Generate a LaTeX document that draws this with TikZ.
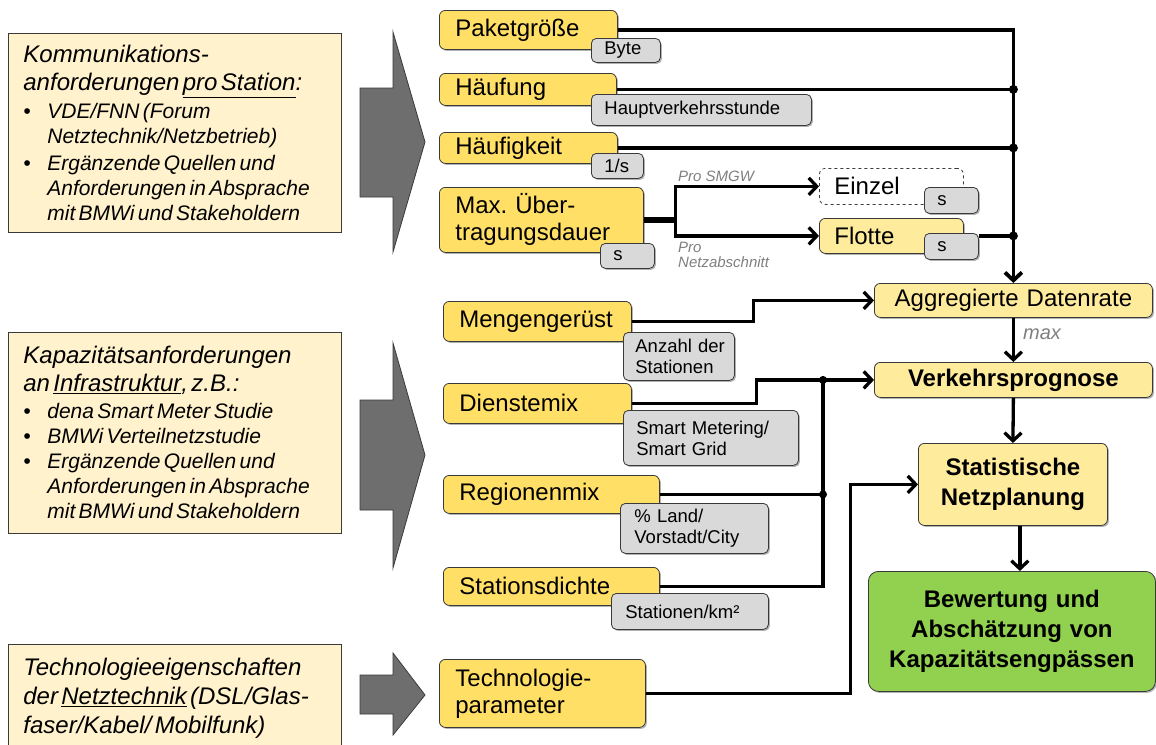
\documentclass[tikz,border=0pt]{standalone}
\usepackage{fontspec}
\setmainfont{Liberation Sans}
\usetikzlibrary{arrows.meta,shadows,calc}
\definecolor{gold}{HTML}{FFDF66}
\definecolor{lgold}{HTML}{FFEB9C}
\definecolor{cream}{HTML}{FFF2CC}
\definecolor{tagc}{HTML}{D9D9D9}
\definecolor{grn}{HTML}{92D050}
\definecolor{arrc}{HTML}{6E6E6E}
\definecolor{bordc}{HTML}{3A3A3A}
\definecolor{lblc}{HTML}{7F7F7F}
\hyphenpenalty=10000
\exhyphenpenalty=10000
\frenchspacing
\newcommand\bitem[1]{\par\hangindent=24pt\hangafter=1\noindent\makebox[24pt][l]{\textbullet}#1\par}
\newcommand\boxsetup{\raggedright\leftskip=11pt\parindent=0pt\frenchspacing}
\begin{document}
\begin{tikzpicture}[x=1pt,y=-1pt,
  shd/.style={drop shadow={shadow xshift=1.5pt,shadow yshift=-1.5pt,opacity=0.3,fill=black}},
  lbox/.style={draw=bordc,line width=0.8pt,fill=cream,anchor=north west,inner xsep=4pt,inner ysep=0pt,text width=325pt,minimum height=#1,font=\itshape},
  ynb/.style={draw=bordc,line width=0.8pt,fill=gold,rounded corners=6pt,anchor=north west,inner xsep=16pt,inner ysep=0pt,align=left,font=\fontsize{24}{27}\selectfont},
  yn/.style={ynb,shd},
  tag/.style={draw=bordc,line width=0.8pt,fill=tagc,rounded corners=5pt,anchor=north west,inner xsep=13pt,inner ysep=0pt,align=left,font=\fontsize{18.5}{21}\selectfont,shd},
  cn/.style={draw=bordc,line width=0.8pt,fill=lgold,rounded corners=6pt,anchor=north west,inner xsep=10pt,inner ysep=0pt,align=center,font=\fontsize{24}{30}\selectfont,shd},
  conn/.style={line width=3.3pt},
  arr/.style={-{Straight Barb[length=8pt,width=17pt]}},
  lbl/.style={text=lblc,inner sep=0pt,align=left},
  garrow/.style={draw=bordc,line width=0.8pt,fill=arrc}
]
\useasboundingbox (0,0) rectangle (1156,744);
\clip (0,0) rectangle (1156,744);

% left info boxes
\node[lbox=199pt] (k1) at (8,33) {\boxsetup
{\fontsize{24}{28}\selectfont Kommunikations-\newline anforderungen \underline{pro Station}:\par}
\fontsize{21}{25}\selectfont\vspace{3pt}%
\bitem{VDE/FNN (Forum\newline Netztechnik/Netzbetrieb)}%
\vspace{2pt}%
\bitem{Ergänzende Quellen und\newline Anforderungen in Absprache\newline mit BMWi und Stakeholdern}};

\node[lbox=201pt] (k2) at (8,332) {\boxsetup
{\fontsize{24}{28}\selectfont Kapazitätsanforderungen\newline an \underline{Infrastruktur}, z.B.:\par}
\fontsize{21}{25}\selectfont\vspace{2pt}%
\bitem{dena Smart Meter Studie}%
\bitem{BMWi Verteilnetzstudie}%
\bitem{Ergänzende Quellen und\newline Anforderungen in Absprache\newline mit BMWi und Stakeholdern}};

\node[lbox=108pt] (k3) at (8,644) {\boxsetup\fontsize{24}{29}\selectfont
Technologieeigenschaften\newline der \underline{Netztechnik} (DSL/Glas-\newline faser/Kabel/ Mobilfunk)\par};

% gray block arrows
\draw[garrow] (360,88) -- (393,88) -- (393,32) -- (425,142) -- (393,252) -- (393,197) -- (360,197) -- cycle;
\draw[garrow] (360,400) -- (393,400) -- (393,343) -- (425,455) -- (393,568) -- (393,510) -- (360,510) -- cycle;
\draw[garrow] (360,675) -- (393,675) -- (393,653) -- (425,695) -- (393,735) -- (393,714) -- (360,714) -- cycle;

% parameter nodes
\node[yn,text width=146pt,minimum height=39pt] (paket) at (439,10) {Paketgröße};
\node[yn,text width=145pt,minimum height=32pt] (haeuf) at (439,73) {Häufung};
\node[yn,text width=146pt,minimum height=31pt] (haeufk) at (439,132) {Häufigkeit};
\node[yn,text width=172pt,minimum height=65pt] (maxn) at (439,187) {Max. Über-\\tragungsdauer};
\node[ynb,dashed,fill=white,inner xsep=15pt,text width=114pt,minimum height=36pt] (einzel) at (819,168) {Einzel};
\node[yn,fill=lgold,inner xsep=15pt,text width=114pt,minimum height=35pt] (flotte) at (819,218) {Flotte};
\node[yn,text width=156pt,minimum height=40pt] (meng) at (443,301) {Mengengerüst};
\node[yn,text width=156pt,minimum height=40pt] (dienst) at (443,383) {Dienstemix};
\node[yn,text width=184pt,minimum height=38pt] (region) at (443,475) {Regionenmix};
\node[yn,text width=184pt,minimum height=38pt] (statd) at (443,567) {Stationsdichte};
\node[yn,text width=174pt,minimum height=68pt] (tech) at (439,659) {Technologie-\\parameter};

% unit tags
\node[tag,text width=43pt,minimum height=24pt] (tbyte) at (591,38) {Byte};
\node[tag,text width=194pt,minimum height=31pt] (thvs) at (591,94) {Hauptverkehrsstunde};
\node[tag,text width=26pt,minimum height=25pt] (t1s) at (591,153) {1/s};
\node[tag,text width=28pt,minimum height=25pt] (tmax) at (600,243) {s};
\node[tag,text width=28pt,minimum height=26pt] (teinzel) at (924,187) {s};
\node[tag,text width=28pt,minimum height=26pt] (tflotte) at (924,233) {s};
\node[tag,inner xsep=9pt,text width=93pt,minimum height=48pt] (tanz) at (623,332) {\hspace*{3pt}Anzahl der\\\hspace*{3pt}Stationen};
\node[tag,text width=149pt,minimum height=55pt] (tsm) at (623,410) {Smart Metering/\\Smart Grid};
\node[tag,inner xsep=14pt,text width=120pt,minimum height=50pt] (tland) at (620,503) {\% Land/\\Vorstadt/City};
\node[tag,inner xsep=14pt,text width=129pt,minimum height=36pt] (tstat) at (611,593) {Stationen/km²};

% result chain
\node[cn,text width=258pt,minimum height=34pt] (agg) at (874,283) {Aggregierte Datenrate};
\node[cn,text width=258pt,minimum height=35pt,font=\fontsize{24}{30}\selectfont\bfseries] (verk) at (874,362) {Verkehrsprognose};
\node[cn,text width=169pt,minimum height=82pt,font=\fontsize{24}{30}\selectfont\bfseries] (statn) at (918,443) {Statistische\\Netzplanung};
\node[cn,fill=grn,rounded corners=10pt,text width=267pt,minimum height=120pt,font=\fontsize{24}{30}\selectfont\bfseries] (green) at (868,571) {Bewertung und\\Abschätzung von\\Kapazitätsengpässen};

% labels
\node[lbl,font=\fontsize{15}{15}\selectfont\itshape,anchor=base west] (psmgw) at (678,181) {Pro SMGW};
\node[lbl,font=\fontsize{15}{15}\selectfont\itshape,anchor=north west] (pnetz) at (678,242) {Pro\\Netzabschnitt};
\node[lbl,font=\fontsize{20}{20}\selectfont\itshape,anchor=base west] (maxl) at (1023,339) {max};

% connectors
\draw[conn,line width=3.8pt,arr] (paket.east) -| (agg.north);
\draw[conn] (haeuf.east) -- (haeuf.east -| agg.north);
\fill (haeuf.east -| agg.north) circle (4.5pt);
\draw[conn] (haeufk.east) -- (haeufk.east -| agg.north);
\fill (haeufk.east -| agg.north) circle (4.5pt);
\draw[line width=5.5pt] (maxn.east) -- ++(32,0) coordinate (split);
\draw[conn,arr] (split) |- (einzel.west);
\draw[conn,arr] (split) |- (flotte.west);
\draw[conn] (tflotte.east |- flotte.east) -- (flotte.east -| agg.north);
\fill (flotte.east -| agg.north) circle (4.5pt);

\draw[conn,arr] (meng.east) -- ++(122,0) |- (agg.west);
\draw[conn,arr] (dienst.east) -- ++(125,0) |- (verk.west);
\coordinate (vb) at ($(verk.west)+(-51,0)$);
\draw[conn] (statd.east) -| (vb);
\draw[conn] (region.east) -- (region.east -| vb);
\fill (vb) circle (4pt);
\fill (region.east -| vb) circle (4pt);
\draw[conn,arr] (tech.east) -- ++(205,0) |- (statn.west);

\draw[conn,arr] (agg.south) -- (verk.north);
\draw[conn,arr] (verk.south) -- (statn.north);
\path (statn.south) ++(7,0) coordinate (sg);
\draw[conn,arr] (sg) -- (sg |- green.north);
\end{tikzpicture}
\end{document}
